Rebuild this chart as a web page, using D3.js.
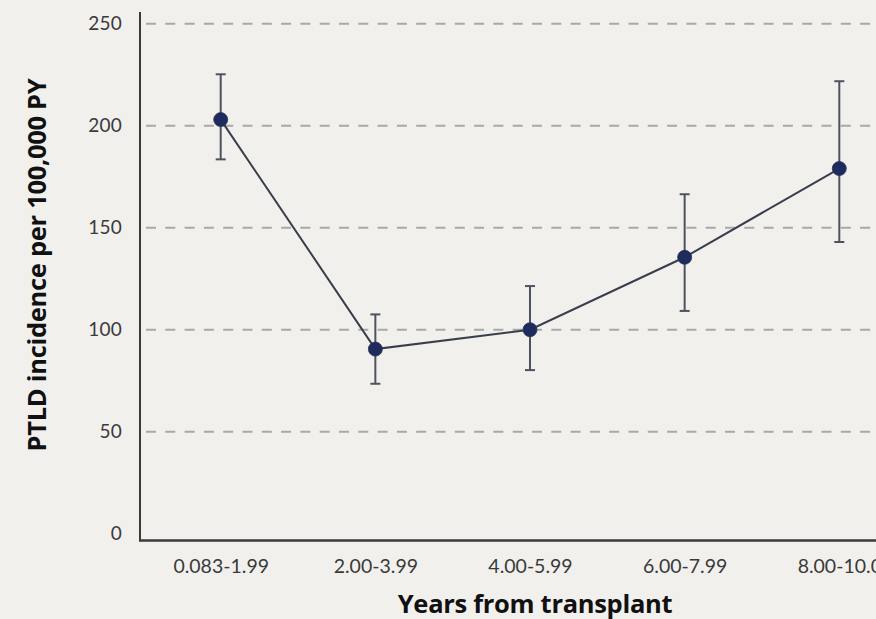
<!DOCTYPE html>
<html>
<head>
<meta charset="utf-8">
<script src="https://cdn.jsdelivr.net/npm/d3@7"></script>
<style>
  html, body { margin: 0; padding: 0; background: #f1f0ed; }
  svg { display: block; }
</style>
</head>
<body>
<svg id="chart" width="876" height="619"></svg>
<script>
// Years-from-transplant bins
const categories = ["0.083-1.99", "2.00-3.99", "4.00-5.99", "6.00-7.99", "8.00-10.0"];
// PTLD incidence per 100,000 person-years with 95% CI
const incidence = [203, 90.5, 100, 135.5, 179];
const ciLower   = [183.5, 73.5, 80.2, 109.2, 143];
const ciUpper   = [225.2, 107.5, 121.4, 166.4, 221.8];
const yTicks    = [0, 50, 100, 150, 200, 250];

const svg = d3.select("#chart");
const W = 876, H = 619;

const x = d3.scalePoint().domain(categories).range([220.7, 839.3]);
const y = d3.scaleLinear().domain([0, 250]).range([533.7, 23.7]);

const axisX = 140, baseY = 540.5;
const tickFont = "Lato, 'Open Sans', sans-serif";

// Dashed horizontal gridlines
svg.append("g")
  .selectAll("line")
  .data(yTicks.filter(d => d > 0))
  .join("line")
  .attr("x1", axisX + 2).attr("x2", W)
  .attr("y1", d => y(d)).attr("y2", d => y(d))
  .attr("stroke", "#a9a8a6")
  .attr("stroke-width", 2)
  .attr("stroke-dasharray", "10,9.3")
  .attr("stroke-dashoffset", -4);

// Y tick labels
const yAxis = d3.axisLeft(y).tickValues(yTicks).tickSize(0).tickPadding(18);
const gy = svg.append("g").attr("transform", `translate(${axisX},0)`).call(yAxis);
gy.select(".domain").remove();
gy.selectAll("text")
  .attr("font-family", tickFont)
  .attr("font-size", 19)
  .attr("letter-spacing", 0.2)
  .attr("fill", "#3a3a3a");

// X tick labels
const xAxis = d3.axisBottom(x).tickSize(0).tickPadding(0);
const gx = svg.append("g").attr("transform", `translate(0,${baseY + 18.5})`).call(xAxis);
gx.select(".domain").remove();
gx.selectAll("text")
  .attr("dy", "0.71em")
  .attr("font-family", tickFont)
  .attr("font-size", 19.5)
  .attr("fill", "#3a3a3a");

// Axis lines
svg.append("line")
  .attr("x1", axisX).attr("x2", axisX)
  .attr("y1", 12).attr("y2", baseY)
  .attr("stroke", "#3a3a3a").attr("stroke-width", 2);
svg.append("line")
  .attr("x1", axisX - 1).attr("x2", W)
  .attr("y1", baseY).attr("y2", baseY)
  .attr("stroke", "#3a3a3a").attr("stroke-width", 2.5);

// Error bars
const eb = svg.append("g")
  .selectAll("g")
  .data(categories.map((c, i) => ({ c, lo: ciLower[i], hi: ciUpper[i] })))
  .join("g");
eb.append("line")
  .attr("x1", d => x(d.c)).attr("x2", d => x(d.c))
  .attr("y1", d => y(d.hi)).attr("y2", d => y(d.lo))
  .attr("stroke", "#4e525e").attr("stroke-width", 2);
eb.append("line")
  .attr("x1", d => x(d.c) - 5).attr("x2", d => x(d.c) + 5)
  .attr("y1", d => y(d.hi)).attr("y2", d => y(d.hi))
  .attr("stroke", "#4e525e").attr("stroke-width", 2);
eb.append("line")
  .attr("x1", d => x(d.c) - 5).attr("x2", d => x(d.c) + 5)
  .attr("y1", d => y(d.lo)).attr("y2", d => y(d.lo))
  .attr("stroke", "#4e525e").attr("stroke-width", 2);

// Connecting line
const pts = categories.map((c, i) => [x(c), y(incidence[i])]);
svg.append("path")
  .attr("d", d3.line()(pts))
  .attr("fill", "none")
  .attr("stroke", "#3a3e4c")
  .attr("stroke-width", 2);

// Points
svg.append("g")
  .selectAll("circle")
  .data(pts)
  .join("circle")
  .attr("cx", d => d[0]).attr("cy", d => d[1])
  .attr("r", 7)
  .attr("fill", "#1d2b5e")
  .attr("stroke", "#2a3350")
  .attr("stroke-width", 0.8);

// Axis titles
svg.append("text")
  .attr("x", 535).attr("y", 613)
  .attr("text-anchor", "middle")
  .attr("font-family", "'Open Sans', 'Noto Sans', sans-serif")
  .attr("font-weight", "bold")
  .attr("font-size", 25.5)
  .attr("letter-spacing", -0.3)
  .attr("fill", "#111")
  .text("Years from transplant");

svg.append("text")
  .attr("transform", "translate(46,265) rotate(-90)")
  .attr("text-anchor", "middle")
  .attr("font-family", "'Open Sans', 'Noto Sans', sans-serif")
  .attr("font-weight", "bold")
  .attr("font-size", 25.5)
  .attr("letter-spacing", -0.3)
  .attr("fill", "#111")
  .text("PTLD incidence per 100,000 PY");
</script>
</body>
</html>
